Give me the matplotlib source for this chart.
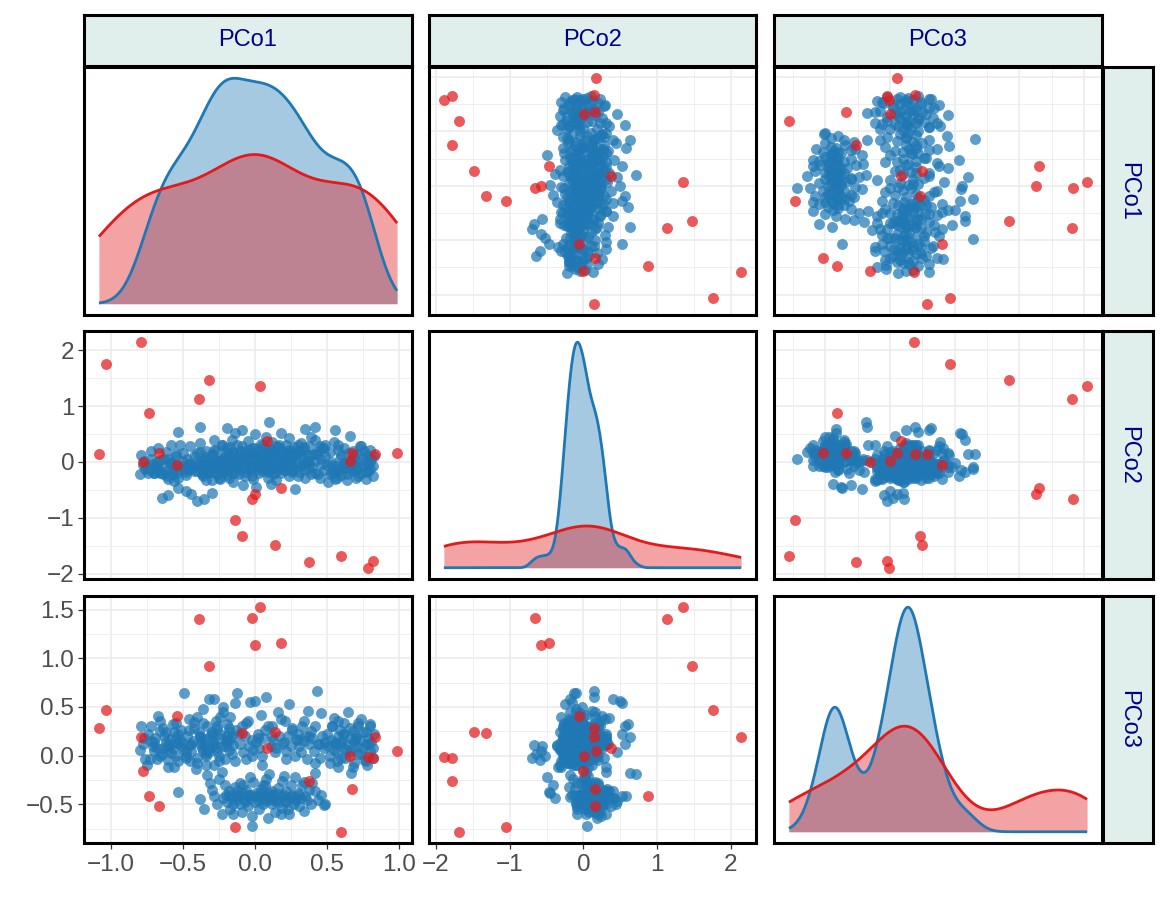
import numpy as np
import matplotlib.pyplot as plt

plt.rcParams["font.family"] = ["Liberation Sans", "DejaVu Sans"]

VARS = ["PCo1", "PCo2", "PCo3"]
BLUE = "#1F78B4"
RED = "#E31A1C"

# --- data: (PCo1, PCo2, PCo3) per sample ---
blue_left = [
    (-0.80, -0.22, 0.06), (-0.79, 0.13, 0.30), (-0.78, -0.05, 0.12), (-0.77, 0.02, 0.18),
    (-0.76, -0.12, -0.03), (-0.74, -0.19, 0.22), (-0.73, -0.15, -0.03), (-0.72, 0.20, 0.15),
    (-0.71, -0.03, 0.10), (-0.70, -0.20, 0.05), (-0.69, -0.09, 0.18), (-0.68, -0.08, 0.08),
    (-0.67, 0.25, 0.41), (-0.66, -0.18, 0.25), (-0.66, 0.03, 0.00), (-0.645, -0.64, 0.02),
    (-0.64, -0.21, 0.28), (-0.63, -0.10, 0.20), (-0.62, 0.18, 0.14), (-0.61, -0.25, 0.10),
    (-0.60, -0.59, -0.05), (-0.60, 0.05, 0.06), (-0.59, -0.02, 0.17), (-0.58, 0.30, 0.12),
    (-0.57, -0.14, 0.08), (-0.56, -0.10, 0.24), (-0.56, -0.35, -0.12), (-0.55, 0.14, 0.33),
    (-0.55, -0.06, 0.00), (-0.54, -0.20, 0.13), (-0.53, 0.53, 0.22), (-0.53, -0.46, -0.37),
    (-0.52, 0.31, 0.16), (-0.51, -0.08, 0.10), (-0.50, 0.02, 0.07), (-0.49, -0.13, 0.64),
    (-0.48, -0.18, 0.04), (-0.48, -0.52, 0.00), (-0.47, 0.06, 0.20), (-0.46, -0.12, 0.26),
    (-0.45, 0.29, 0.11), (-0.45, -0.03, -0.06), (-0.44, -0.58, 0.05), (-0.43, -0.09, 0.15),
    (-0.42, -0.17, 0.35), (-0.41, 0.00, -0.14), (-0.40, -0.70, -0.02), (-0.40, 0.16, 0.40),
    (-0.39, -0.06, 0.24), (-0.38, 0.63, 0.19), (-0.38, 0.34, 0.12), (-0.37, -0.22, 0.14),
    (-0.37, -0.20, 0.08), (-0.36, -0.10, 0.48), (-0.36, -0.11, 0.05), (-0.35, -0.67, 0.11),
    (-0.35, 0.02, 0.17), (-0.34, -0.32, -0.10), (-0.34, 0.20, 0.02), (-0.33, -0.04, 0.30),
    (-0.33, -0.18, -0.20), (-0.32, -0.14, 0.07), (-0.31, -0.08, -0.28), (-0.31, -0.02, 0.20),
    (-0.30, -0.56, 0.10), (-0.30, 0.15, 0.22), (-0.29, -0.08, 0.15), (-0.28, 0.40, 0.58),
    (-0.28, 0.03, 0.12), (-0.27, -0.20, 0.09), (-0.27, 0.22, 0.36), (-0.26, -0.04, 0.05),
    (-0.26, -0.12, 0.27), (-0.25, -0.28, 0.00), (-0.25, 0.06, -0.06), (-0.24, -0.12, 0.18),
    (-0.23, 0.31, -0.17), (-0.22, -0.02, 0.50), (-0.20, -0.06, 0.14), (-0.20, 0.18, 0.10),
    (-0.19, -0.24, 0.20), (-0.18, 0.04, 0.06), (-0.18, -0.14, 0.24), (-0.17, 0.26, 0.16),
    (-0.16, -0.02, 0.02), (-0.16, -0.19, 0.19), (-0.15, -0.36, 0.11),
    (-0.75, -0.10, -0.10), (-0.72, 0.05, 0.30), (-0.70, -0.20, 0.14), (-0.68, 0.00, -0.04),
    (-0.66, -0.19, 0.36), (-0.64, 0.06, 0.08), (-0.62, -0.16, 0.24), (-0.60, -0.30, -0.12),
    (-0.58, 0.00, 0.03), (-0.57, -0.22, 0.32), (-0.55, 0.10, 0.18), (-0.53, -0.28, -0.06),
    (-0.51, -0.12, 0.26), (-0.50, 0.16, 0.13), (-0.48, -0.24, -0.02), (-0.46, -0.04, 0.38),
    (-0.44, -0.12, 0.12), (-0.42, 0.10, 0.28), (-0.40, -0.16, -0.08), (-0.38, -0.04, 0.20),
    (-0.36, -0.26, 0.34), (-0.34, 0.08, 0.00), (-0.32, -0.20, 0.04), (-0.30, -0.32, 0.24),
    (-0.28, -0.10, -0.10), (-0.26, -0.22, 0.30), (-0.24, 0.02, 0.22), (-0.22, -0.16, 0.10),
    (-0.21, -0.08, -0.04), (-0.19, 0.06, 0.16),
]

blue_mid = [
    (-0.32, -0.18, 0.58), (-0.22, -0.18, 0.45), (-0.24, -0.30, 0.40), (-0.19, 0.60, 0.32),
    (-0.14, 0.52, 0.54), (-0.12, -0.10, 0.64), (-0.17, 0.00, 0.40), (-0.13, 0.00, 0.26),
    (-0.10, -0.12, 0.12), (-0.09, 0.57, 0.30), (-0.08, 0.05, 0.04), (-0.07, -0.25, 0.20),
    (-0.06, 0.14, -0.04), (-0.05, -0.04, 0.36), (-0.04, 0.22, 0.10), (-0.03, -0.15, 0.55),
    (-0.02, -0.10, 0.16), (-0.01, -0.30, 0.06), (0.00, 0.50, 0.56), (0.01, -0.08, 0.14),
    (0.02, -0.12, 0.22), (0.03, -0.20, 0.08), (0.04, 0.03, 0.42), (0.05, -0.02, 0.00),
    (0.06, 0.30, 0.18), (0.07, -0.12, 0.26), (0.08, 0.15, 0.60), (0.10, 0.72, -0.19),
    (0.11, -0.05, 0.10), (0.12, 0.20, 0.30), (0.13, -0.22, 0.16), (0.14, -0.20, 0.04),
    (0.16, -0.10, 0.45), (0.17, 0.31, 0.20), (0.19, 0.00, 0.12), (0.20, -0.14, 0.14),
    (0.21, -0.09, 0.36), (0.22, -0.02, 0.05), (0.23, 0.22, 0.20), (0.24, -0.25, 0.53),
    (0.25, 0.05, 0.10), (0.26, -0.08, 0.28), (0.28, 0.14, 0.00), (0.29, -0.04, 0.17),
    (0.30, 0.30, 0.22), (0.31, -0.18, 0.10), (0.32, 0.16, 0.04), (0.33, -0.06, 0.30),
    (0.34, 0.26, 0.15), (0.35, -0.28, 0.20), (0.36, 0.00, -0.04), (0.37, 0.12, 0.46),
    (0.38, -0.12, 0.12), (0.39, -0.21, 0.25), (0.40, -0.10, 0.18), (0.41, 0.15, 0.05),
    (0.42, 0.02, 0.30), (0.43, 0.15, 0.66), (0.44, -0.22, 0.12), (0.42, 0.63, -0.18),
    (0.45, 0.28, -0.02), (0.46, -0.04, 0.44), (0.47, 0.24, 0.20), (0.48, -0.15, 0.08),
    (0.49, 0.10, 0.14),
    (-0.18, -0.28, 0.28), (-0.14, -0.06, -0.06), (-0.11, -0.22, 0.22), (-0.06, -0.18, 0.34),
    (-0.02, -0.26, 0.00), (0.02, -0.04, 0.18), (0.05, -0.16, -0.10), (0.09, -0.28, 0.30),
    (0.12, -0.12, 0.20), (0.15, -0.32, 0.08), (0.18, -0.20, 0.38), (0.22, -0.14, -0.04),
    (0.26, -0.18, 0.26), (0.30, -0.26, 0.16), (0.34, -0.14, 0.36), (0.38, -0.02, 0.20),
    (0.42, -0.20, -0.08), (0.45, -0.28, 0.12),
]

blue_bottom = [
    (-0.38, 0.18, -0.45), (-0.35, 0.05, -0.55), (-0.30, 0.12, -0.35), (-0.28, 0.22, -0.42),
    (-0.26, 0.02, -0.50), (-0.23, 0.30, -0.60), (-0.21, 0.10, -0.30), (-0.20, 0.02, -0.40),
    (-0.19, 0.25, -0.48), (-0.18, 0.12, -0.36), (-0.17, -0.08, -0.55), (-0.16, 0.40, -0.44),
    (-0.15, 0.18, -0.60), (-0.14, -0.20, -0.32), (-0.13, 0.06, -0.46), (-0.12, 0.30, -0.40),
    (-0.11, 0.15, -0.42), (-0.10, -0.05, -0.50), (-0.09, 0.28, -0.38), (-0.09, 0.08, -0.58),
    (-0.08, -0.41, -0.30), (-0.07, 0.20, -0.46), (-0.06, 0.02, -0.35), (-0.05, 0.38, -0.52),
    (-0.04, 0.12, -0.44), (-0.03, -0.12, -0.40), (-0.02, 0.24, -0.62), (-0.02, 0.05, -0.72),
    (-0.01, 0.16, -0.27), (0.00, 0.10, -0.48), (0.01, -0.45, -0.38), (0.02, 0.20, -0.42),
    (0.03, 0.02, -0.55), (0.04, 0.32, -0.34), (0.05, 0.14, -0.45), (0.06, -0.10, -0.50),
    (0.07, 0.24, -0.40), (0.07, 0.06, -0.30), (0.08, 0.45, -0.47), (0.09, -0.18, -0.43),
    (0.09, 0.18, -0.64), (0.10, 0.08, -0.38), (0.11, -0.39, -0.44), (0.12, 0.22, -0.50),
    (0.12, 0.35, -0.36), (0.13, 0.00, -0.41), (0.14, 0.14, -0.58), (0.15, 0.28, -0.46),
    (0.16, -0.12, -0.33), (0.17, 0.10, -0.48), (0.18, 0.52, -0.42), (0.19, 0.04, -0.26),
    (0.19, 0.20, -0.54), (0.20, 0.12, -0.40), (0.21, -0.05, -0.47), (0.22, 0.30, -0.36),
    (0.23, 0.16, -0.55), (0.24, 0.42, -0.44), (0.24, 0.04, -0.60), (0.25, 0.20, -0.30),
    (0.26, -0.15, -0.40), (0.27, 0.26, -0.50), (0.28, -0.49, -0.22), (0.29, 0.10, -0.45),
    (0.30, 0.18, -0.38), (0.31, -0.08, -0.52), (0.32, 0.34, -0.44), (0.33, 0.10, -0.30),
    (0.34, 0.22, -0.57), (0.35, 0.58, -0.42), (0.36, 0.02, -0.46), (0.38, 0.28, -0.35),
    (0.39, 0.44, -0.50), (0.40, 0.12, -0.28), (0.42, 0.40, -0.36), (0.44, 0.20, -0.46),
    (0.46, 0.05, -0.40), (0.48, 0.25, -0.51), (0.49, 0.30, -0.50),
    (-0.22, 0.06, -0.44), (-0.18, -0.04, -0.40), (-0.15, 0.12, -0.50), (-0.12, 0.00, -0.36),
    (-0.10, 0.20, -0.28), (-0.07, -0.10, -0.48), (-0.05, 0.10, -0.40), (-0.03, 0.02, -0.22),
    (0.00, 0.24, -0.42), (0.02, -0.06, -0.46), (0.04, 0.14, -0.38), (0.06, 0.04, -0.30),
    (0.08, -0.14, -0.24), (0.10, 0.18, -0.45), (0.12, -0.02, -0.40), (0.14, 0.08, -0.47),
    (0.16, 0.26, -0.39), (0.18, -0.08, -0.60), (0.20, 0.06, -0.21), (0.22, 0.16, -0.48),
    (0.25, -0.04, -0.42), (0.28, 0.12, -0.46), (0.31, 0.22, -0.40), (0.34, -0.02, -0.27),
    (-0.25, 0.00, -0.24),
]

blue_right = [
    (0.50, -0.05, 0.22), (0.51, -0.36, 0.10), (0.52, 0.18, 0.00), (0.53, 0.00, 0.16),
    (0.54, -0.20, 0.30), (0.55, -0.18, 0.06), (0.55, 0.35, 0.39), (0.56, 0.57, 0.12),
    (0.57, -0.08, -0.06), (0.58, 0.22, 0.20), (0.59, -0.14, 0.12), (0.59, 0.05, 0.26),
    (0.58, 0.30, -0.12), (0.57, -0.28, 0.04), (0.60, 0.12, 0.14), (0.61, -0.10, 0.22),
    (0.62, 0.25, 0.08), (0.62, -0.02, 0.33), (0.63, -0.11, -0.02), (0.64, -0.22, 0.12),
    (0.65, 0.16, 0.45), (0.66, -0.06, 0.18), (0.66, 0.46, 0.04), (0.67, 0.04, -0.18),
    (0.68, -0.16, 0.08), (0.68, 0.20, 0.25), (0.69, -0.02, -0.08), (0.69, 0.10, 0.15),
    (0.70, -0.12, 0.20), (0.71, 0.15, 0.10), (0.72, 0.00, 0.30), (0.72, -0.26, 0.02),
    (0.73, 0.28, 0.16), (0.74, 0.29, 0.38), (0.75, -0.08, 0.08), (0.76, 0.20, -0.05),
    (0.77, -0.18, 0.24), (0.77, 0.02, 0.12), (0.78, 0.12, -0.10), (0.79, -0.04, 0.18),
    (0.80, 0.22, 0.30), (0.80, -0.12, 0.05), (0.81, 0.05, 0.14), (0.82, -0.25, -0.02),
    (0.83, 0.10, 0.22),
    (0.52, -0.22, -0.08), (0.54, -0.06, 0.30), (0.56, -0.30, 0.14), (0.58, -0.12, 0.36),
    (0.60, -0.24, -0.02), (0.62, -0.04, 0.22), (0.64, -0.32, 0.06), (0.66, -0.14, 0.28),
    (0.68, 0.06, -0.12), (0.70, -0.28, 0.18), (0.72, -0.10, 0.34), (0.74, -0.20, 0.02),
    (0.75, 0.08, 0.24), (0.77, -0.30, -0.06), (0.79, -0.16, 0.12), (0.80, 0.00, 0.32),
    (0.82, -0.08, 0.08),
]

red_points = [
    (-1.083, 0.142, 0.285), (-1.032, 1.757, 0.464), (-0.791, 2.140, 0.186),
    (-0.779, 0.000, -0.156), (-0.738, 0.870, -0.414), (-0.664, 0.160, -0.519),
    (-0.538, -0.053, 0.403), (-0.389, 1.130, 1.407), (-0.320, 1.473, 0.922),
    (-0.136, -1.047, -0.739), (-0.090, -1.320, 0.231), (-0.016, -0.657, 1.414),
    (0.000, -0.580, 1.132), (0.034, 1.355, 1.525), (0.087, 0.373, 0.081),
    (0.140, -1.479, 0.244), (0.179, -0.473, 1.153), (0.375, -1.787, -0.264),
    (0.598, -1.686, -0.783), (0.660, 0.012, 0.000), (0.678, 0.154, -0.339),
    (0.789, -1.893, -0.010), (0.825, -1.781, -0.020), (0.834, 0.142, 0.190),
    (0.989, 0.166, 0.051),
]

major_ticks = {
    "PCo1": [-1.0, -0.5, 0.0, 0.5, 1.0],
    "PCo2": [-2, -1, 0, 1, 2],
    "PCo3": [-0.5, 0.0, 0.5, 1.0, 1.5],
}
tick_labels = {
    "PCo1": ["\u22121.0", "\u22120.5", "0.0", "0.5", "1.0"],
    "PCo2": ["\u22122", "\u22121", "0", "1", "2"],
    "PCo3": ["\u22120.5", "0.0", "0.5", "1.0", "1.5"],
}

blue = np.array(blue_left + blue_mid + blue_bottom + blue_right)
red = np.array(red_points)
groups = [(blue, BLUE), (red, RED)]


def bw_nrd0(x):
    hi = np.std(x, ddof=1)
    q75, q25 = np.percentile(x, [75, 25])
    lo = min(hi, (q75 - q25) / 1.34)
    return 0.9 * lo * len(x) ** -0.2


def kde(x, grid):
    bw = bw_nrd0(x)
    z = (grid[:, None] - x[None, :]) / bw
    return np.exp(-0.5 * z ** 2).sum(axis=1) / (len(x) * bw * np.sqrt(2 * np.pi))


def minor_of(ticks, lim):
    t = np.asarray(ticks, dtype=float)
    step = t[1] - t[0]
    ext = np.concatenate([[t[0] - step], t, [t[-1] + step]])
    mids = (ext[:-1] + ext[1:]) / 2
    return mids[(mids > lim[0]) & (mids < lim[1])]


# limits: full data range with 5% expansion (like ggplot)
all_pts = np.vstack([blue, red])
limits = {}
for k, v in enumerate(VARS):
    lo, hi = all_pts[:, k].min(), all_pts[:, k].max()
    pad = (hi - lo) * 0.05
    limits[v] = (lo - pad, hi + pad)

W, H = 1170, 900
COL_X = [(84, 412), (429, 756), (774, 1102)]
ROW_Y = [(67, 315), (331, 579), (596, 843)]
STRIP_TOP = (15, 66)
STRIP_RIGHT = (1103, 1153)
BORDER_LW = 2.2
GRID_COL = "#EBEBEB"
STRIP_FILL = "#E0EEEC"
STRIP_TEXT = "#00008B"

fig = plt.figure(figsize=(W / 100, H / 100), dpi=100)


def px_axes(x0, x1, y0, y1):
    return fig.add_axes([x0 / W, 1 - y1 / H, (x1 - x0) / W, (y1 - y0) / H])


def style_border(ax):
    for sp in ax.spines.values():
        sp.set_color("black")
        sp.set_linewidth(BORDER_LW)


for i, vy in enumerate(VARS):
    for j, vx in enumerate(VARS):
        x0, x1 = COL_X[j]
        y0, y1 = ROW_Y[i]
        ax = px_axes(x0, x1, y0, y1)
        ax.set_xticks(major_ticks[vx])
        ax.set_xticklabels(tick_labels[vx])
        ax.set_xticks(minor_of(major_ticks[vx], limits[vx]), minor=True)

        if i == j:
            k = j
            grid = np.linspace(all_pts[:, k].min(), all_pts[:, k].max(), 512)
            dmax = 0
            for pts, col in groups:
                d = kde(pts[:, k], grid)
                dmax = max(dmax, d.max())
                ax.fill_between(grid, 0, d, color=col, alpha=0.4, lw=0)
                ax.plot(grid, d, color=col, lw=2.0, solid_capstyle="butt")
            ax.set_yticks([])
            ax.set_ylim(-0.05 * dmax, 1.05 * dmax)
        else:
            ax.set_yticks(major_ticks[vy])
            ax.set_yticklabels(tick_labels[vy])
            ax.set_yticks(minor_of(major_ticks[vy], limits[vy]), minor=True)
            ax.grid(which="major", color=GRID_COL, lw=1.1)
            ax.grid(which="minor", color=GRID_COL, lw=0.55)
            ax.set_axisbelow(True)
            ky, kx = VARS.index(vy), VARS.index(vx)
            for pts, col in groups:
                ax.scatter(pts[:, kx], pts[:, ky], s=62, color=col, alpha=0.72,
                           linewidths=0, zorder=3)
            ax.set_ylim(limits[vy])
        ax.set_xlim(limits[vx])

        ax.tick_params(which="minor", length=0)
        ax.tick_params(which="major", length=4, width=0.9, color="#333333",
                       labelsize=17.5, labelcolor="#4D4D4D")
        ax.tick_params(axis="x", pad=4)
        ax.tick_params(axis="y", pad=3)
        show_x = (i == 2 and j < 2)
        show_y = (j == 0 and i > 0)
        if not show_x:
            ax.tick_params(axis="x", which="major", length=0, labelbottom=False)
        if not show_y:
            ax.tick_params(axis="y", which="major", length=0, labelleft=False)
        style_border(ax)

# strips
for j, v in enumerate(VARS):
    x0, x1 = COL_X[j]
    s = px_axes(x0, x1, STRIP_TOP[0], STRIP_TOP[1])
    s.set_facecolor(STRIP_FILL)
    s.set_xticks([])
    s.set_yticks([])
    style_border(s)
    s.text(0.5, 0.5, v, ha="center", va="center", fontsize=17, color=STRIP_TEXT,
           transform=s.transAxes)

for i, v in enumerate(VARS):
    y0, y1 = ROW_Y[i]
    s = px_axes(STRIP_RIGHT[0], STRIP_RIGHT[1], y0, y1)
    s.set_facecolor(STRIP_FILL)
    s.set_xticks([])
    s.set_yticks([])
    style_border(s)
    s.text(0.5, 0.5, v, ha="center", va="center", fontsize=17, color=STRIP_TEXT,
           rotation=-90, transform=s.transAxes)

fig.savefig("out.png", dpi=100, facecolor="white")
